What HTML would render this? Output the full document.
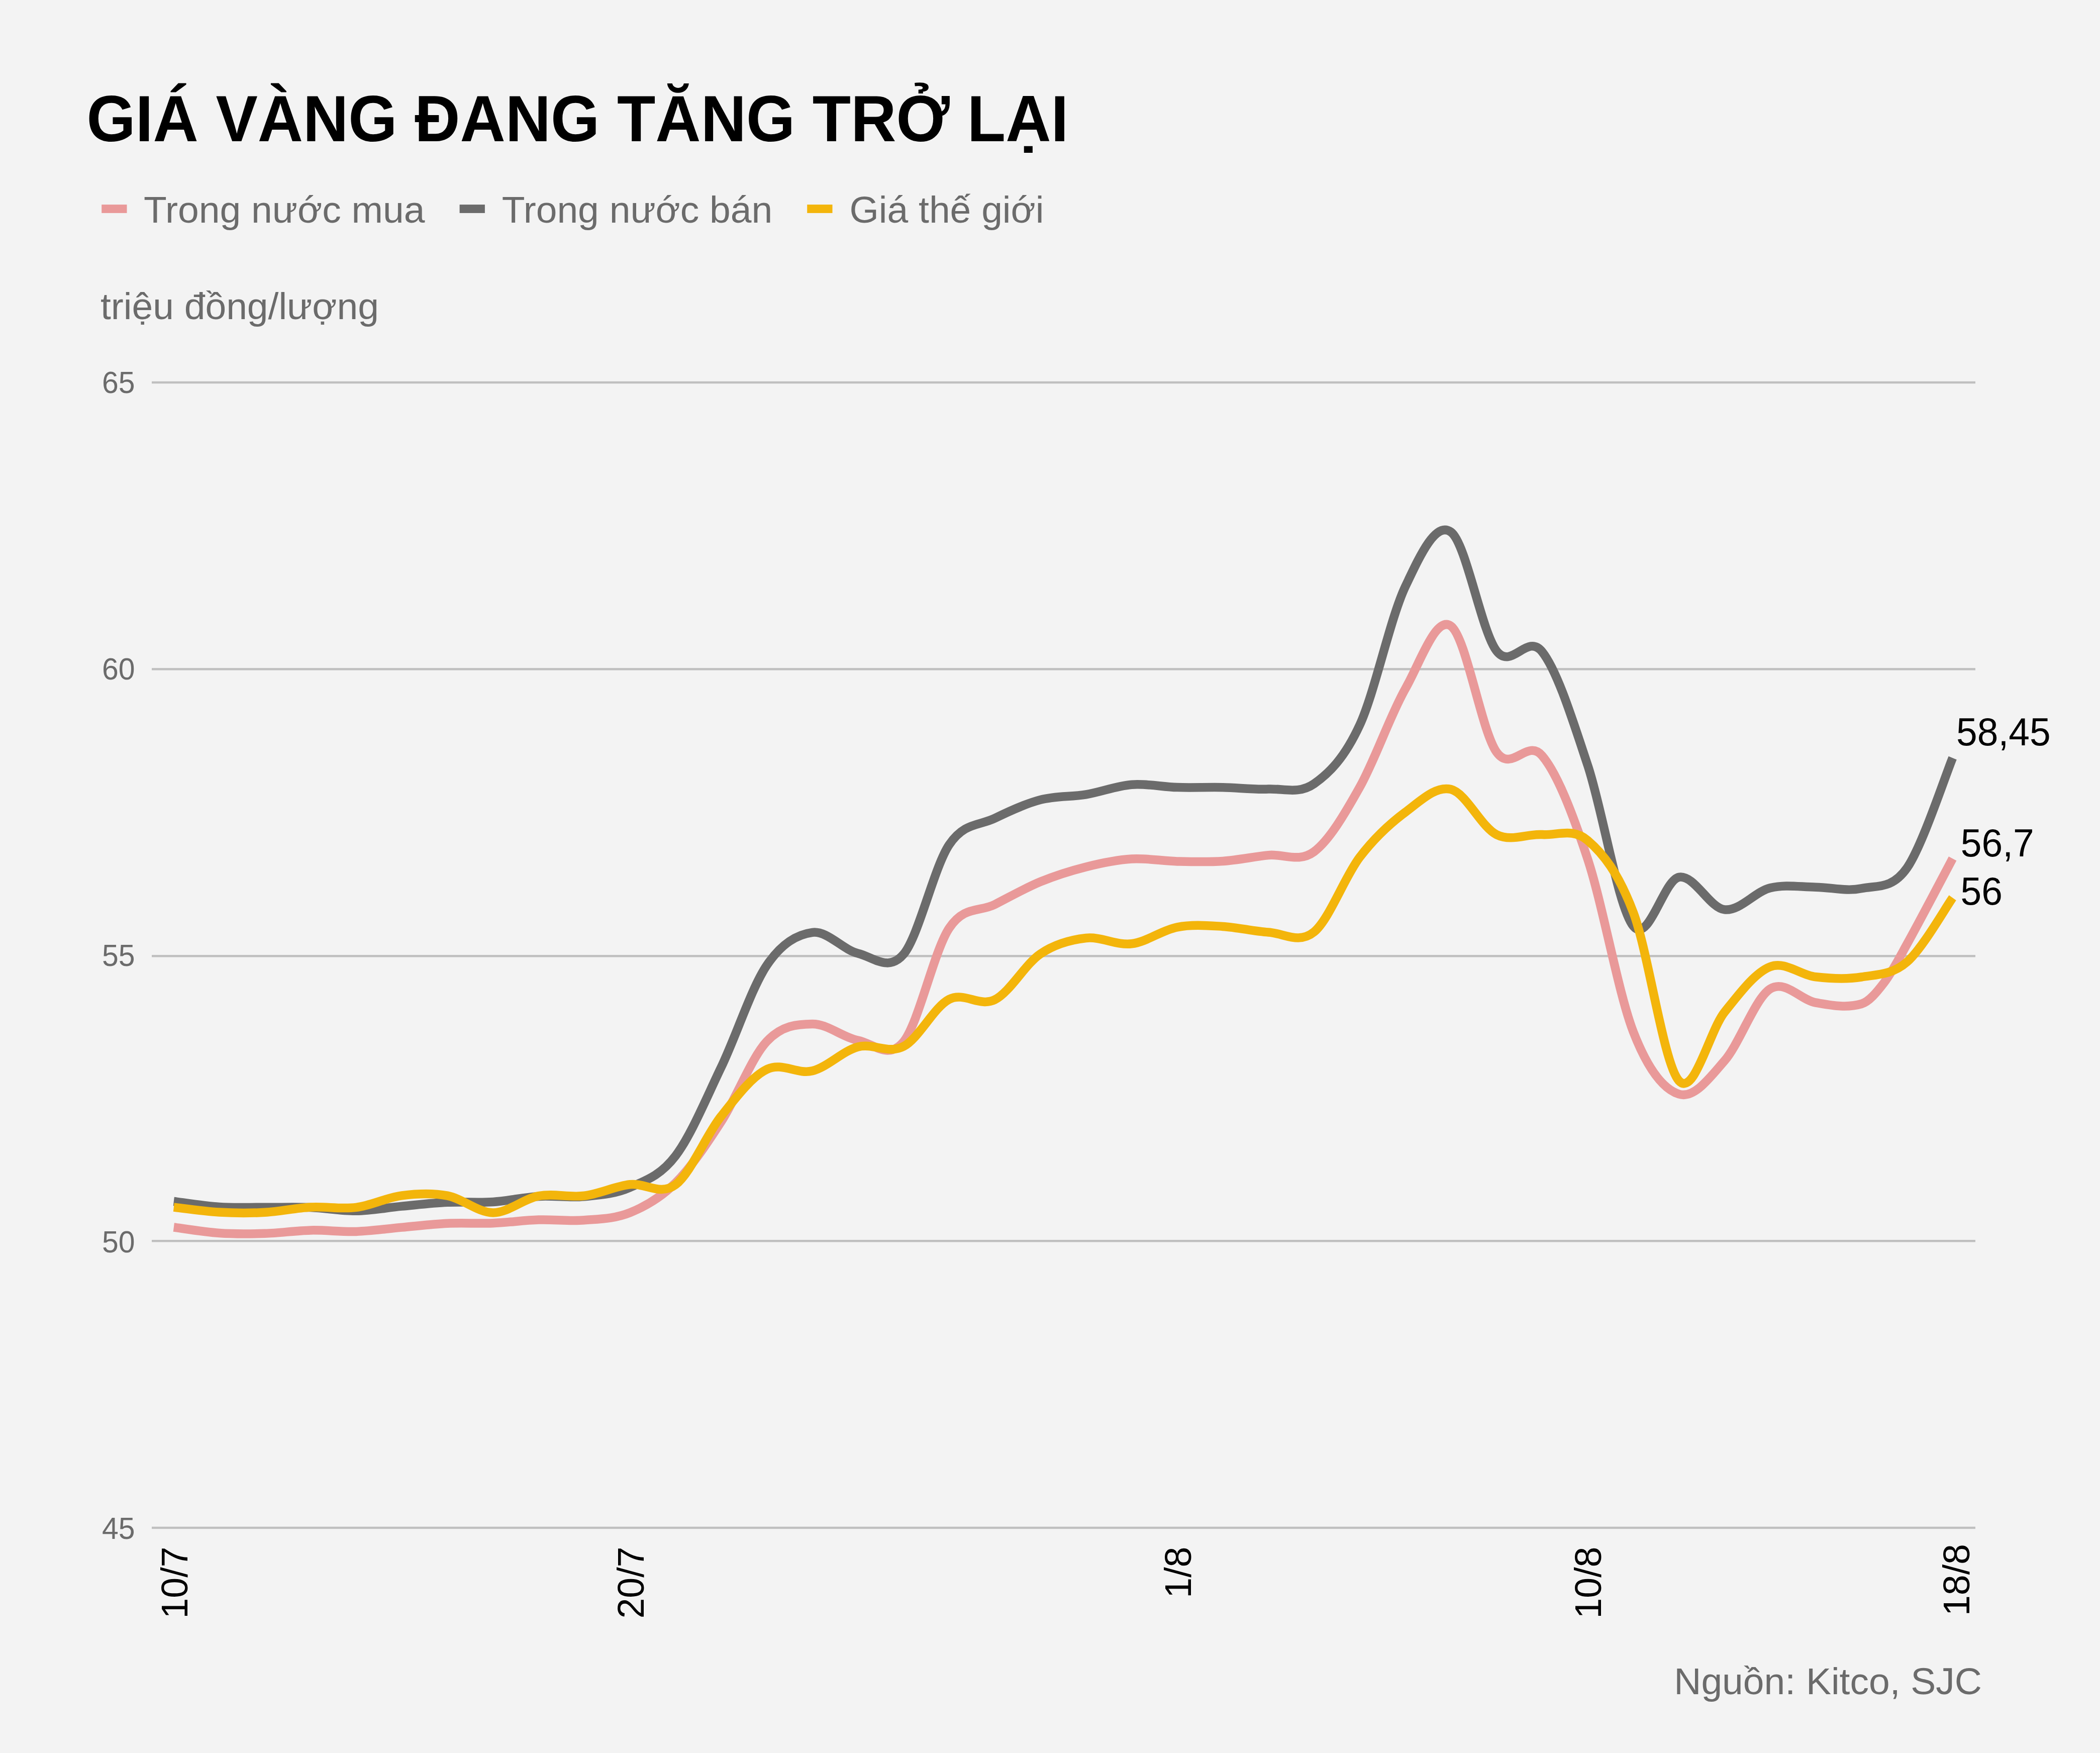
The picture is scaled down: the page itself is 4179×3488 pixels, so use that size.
<!DOCTYPE html>
<html lang="vi"><head><meta charset="utf-8"><title>Giá vàng đang tăng trở lại</title>
<style>html,body{margin:0;padding:0;background:#f3f3f3}body{width:4179px;height:3488px;overflow:hidden}svg{display:block}text{font-family:"Liberation Sans",Arial,Helvetica,sans-serif}</style></head><body>
<svg width="4179" height="3488" viewBox="0 0 4179 3488">
<rect width="4179" height="3488" fill="#f3f3f3"/>
<text transform="translate(172.5 281) scale(1 1.041)" font-size="125" font-weight="700" fill="#000">GIÁ VÀNG ĐANG TĂNG TRỞ LẠI</text>
<rect x="202.2" y="407.1" width="50.3" height="16.8" fill="#e99999"/>
<text x="286.1" y="442.5" font-size="75" fill="#6b6b6b">Trong nước mua</text>
<rect x="914.6" y="407.1" width="50.3" height="16.8" fill="#6b6b6b"/>
<text x="998.7" y="442.5" font-size="75" fill="#6b6b6b">Trong nước bán</text>
<rect x="1606.2" y="407.1" width="50.3" height="16.8" fill="#f3b50b"/>
<text x="1690.5" y="442.5" font-size="75" fill="#6b6b6b">Giá thế giới</text>
<text x="200" y="635" font-size="75" fill="#6b6b6b">triệu đồng/lượng</text>
<rect x="302" y="758.8" width="3629" height="4.4" fill="#bfbfbf"/>
<rect x="302" y="1329.2" width="3629" height="4.4" fill="#bfbfbf"/>
<rect x="302" y="1900.1" width="3629" height="4.4" fill="#bfbfbf"/>
<rect x="302" y="2467.0" width="3629" height="4.4" fill="#bfbfbf"/>
<rect x="302" y="3037.7" width="3629" height="4.4" fill="#bfbfbf"/>
<text transform="translate(203 782) scale(1 1.041)" font-size="59" fill="#6b6b6b">65</text>
<text transform="translate(203 1352) scale(1 1.041)" font-size="59" fill="#6b6b6b">60</text>
<text transform="translate(203 1922) scale(1 1.041)" font-size="59" fill="#6b6b6b">55</text>
<text transform="translate(203 2492) scale(1 1.041)" font-size="59" fill="#6b6b6b">50</text>
<text transform="translate(203 3062) scale(1 1.041)" font-size="59" fill="#6b6b6b">45</text>
<path d="M345.8 2442.0C360.9 2443.9 406.3 2451.4 436.6 2453.5C466.8 2455.6 497.1 2455.2 527.3 2454.3C557.6 2453.4 587.8 2448.6 618.1 2447.9C648.4 2447.2 678.6 2451.4 708.9 2450.4C739.1 2449.4 769.4 2444.8 799.6 2442.1C829.9 2439.4 860.1 2435.7 890.4 2434.3C920.7 2432.9 950.9 2434.9 981.2 2433.7C1011.4 2432.5 1041.7 2428.1 1071.9 2427.1C1102.2 2426.1 1132.4 2430.2 1162.7 2427.8C1193.0 2425.4 1223.2 2425.2 1253.5 2412.9C1283.7 2400.6 1314.0 2384.0 1344.2 2353.8C1374.5 2323.7 1404.7 2278.9 1435.0 2232.0C1465.3 2185.1 1495.5 2104.7 1525.8 2072.3C1556.0 2039.9 1586.3 2037.9 1616.5 2037.5C1646.8 2037.1 1677.0 2064.1 1707.3 2070.0C1737.6 2075.9 1767.8 2110.0 1798.1 2072.8C1828.3 2035.6 1858.6 1892.4 1888.8 1846.9C1919.1 1801.4 1949.3 1815.1 1979.6 1799.7C2009.9 1784.3 2040.1 1766.9 2070.4 1754.4C2100.6 1741.9 2130.9 1732.5 2161.1 1724.9C2191.4 1717.3 2221.6 1710.8 2251.9 1709.0C2282.2 1707.2 2312.4 1713.2 2342.7 1713.9C2372.9 1714.6 2403.2 1715.5 2433.4 1713.4C2463.7 1711.4 2493.9 1704.7 2524.2 1701.6C2554.5 1698.5 2584.7 1717.1 2615.0 1694.6C2645.2 1672.1 2675.5 1620.6 2705.7 1566.6C2736.0 1512.6 2766.2 1424.2 2796.5 1370.7C2826.8 1317.2 2857.0 1224.7 2887.3 1245.6C2917.5 1266.5 2947.8 1453.3 2978.0 1496.3C3008.3 1539.3 3038.5 1468.0 3068.8 1503.6C3099.1 1539.2 3129.3 1618.2 3159.6 1709.8C3189.8 1801.4 3220.1 1975.2 3250.3 2053.1C3280.6 2131.0 3310.8 2167.4 3341.1 2177.0C3371.4 2186.6 3401.6 2145.4 3431.9 2110.5C3462.1 2075.6 3492.4 1987.0 3522.6 1967.7C3552.9 1948.5 3583.1 1990.0 3613.4 1995.0C3643.7 2000.0 3673.9 2006.4 3704.2 1997.5C3719.3 1993.1 3734.4 1974.8 3749.5 1955.0C3764.7 1935.2 3779.8 1905.9 3794.9 1878.5C3825.2 1823.7 3870.6 1736.8 3885.7 1708.4" fill="none" stroke="#e99999" stroke-width="17.5" stroke-linejoin="round" stroke-linecap="butt"/>
<path d="M345.8 2390.5C360.9 2392.3 406.3 2399.6 436.6 2401.6C466.8 2403.6 497.1 2402.1 527.3 2402.3C557.6 2402.5 587.8 2401.4 618.1 2402.6C648.4 2403.8 678.6 2409.7 708.9 2409.3C739.1 2408.9 769.4 2402.9 799.6 2400.1C829.9 2397.3 860.1 2393.7 890.4 2392.3C920.7 2390.9 950.9 2393.5 981.2 2391.5C1011.4 2389.5 1041.7 2382.2 1071.9 2380.4C1102.2 2378.6 1132.4 2383.6 1162.7 2380.7C1193.0 2377.8 1223.2 2376.1 1253.5 2362.7C1283.7 2349.2 1314.0 2339.8 1344.2 2300.0C1374.5 2260.2 1404.7 2187.0 1435.0 2123.8C1465.3 2060.6 1495.5 1965.6 1525.8 1920.9C1556.0 1876.2 1586.3 1859.4 1616.5 1855.4C1646.8 1851.4 1677.0 1889.7 1707.3 1896.9C1737.6 1904.1 1767.8 1934.7 1798.1 1898.7C1828.3 1862.7 1858.6 1726.0 1888.8 1680.9C1919.1 1635.8 1949.3 1643.1 1979.6 1628.2C2009.9 1613.3 2040.1 1599.3 2070.4 1591.4C2100.6 1583.5 2130.9 1585.8 2161.1 1580.8C2191.4 1575.8 2221.6 1563.6 2251.9 1561.2C2282.2 1558.8 2312.4 1565.7 2342.7 1566.6C2372.9 1567.5 2403.2 1566.1 2433.4 1566.7C2463.7 1567.3 2493.9 1571.2 2524.2 1570.0C2554.5 1568.8 2584.7 1580.7 2615.0 1559.5C2645.2 1538.3 2675.5 1508.3 2705.7 1442.9C2736.0 1377.5 2766.2 1231.4 2796.5 1167.3C2826.8 1103.2 2857.0 1037.2 2887.3 1058.5C2917.5 1079.8 2947.8 1255.3 2978.0 1295.0C3008.3 1334.7 3038.5 1258.7 3068.8 1296.7C3099.1 1334.7 3129.3 1431.9 3159.6 1522.9C3189.8 1613.9 3220.1 1805.7 3250.3 1842.8C3280.6 1879.9 3310.8 1750.8 3341.1 1745.3C3371.4 1739.8 3401.6 1806.3 3431.9 1809.9C3462.1 1813.5 3492.4 1774.2 3522.6 1766.8C3552.9 1759.3 3583.1 1765.0 3613.4 1765.2C3643.7 1765.4 3673.9 1774.2 3704.2 1767.8C3734.4 1761.4 3764.7 1770.3 3794.9 1727.0C3825.2 1683.7 3870.6 1544.7 3885.7 1508.2" fill="none" stroke="#6b6b6b" stroke-width="17.5" stroke-linejoin="round" stroke-linecap="butt"/>
<path d="M345.8 2402.1C360.9 2403.8 406.3 2410.4 436.6 2412.1C466.8 2413.8 497.1 2414.0 527.3 2412.3C557.6 2410.6 587.8 2403.7 618.1 2402.0C648.4 2400.3 678.6 2406.2 708.9 2402.4C739.1 2398.6 769.4 2382.8 799.6 2378.9C829.9 2375.0 860.1 2373.5 890.4 2379.2C920.7 2384.9 950.9 2412.8 981.2 2412.9C1011.4 2413.0 1041.7 2385.3 1071.9 2379.7C1102.2 2374.1 1132.4 2383.1 1162.7 2379.3C1193.0 2375.5 1223.2 2360.5 1253.5 2356.8C1283.7 2353.1 1314.0 2379.9 1344.2 2357.3C1374.5 2334.7 1404.7 2259.2 1435.0 2221.0C1465.3 2182.8 1495.5 2142.8 1525.8 2127.8C1556.0 2112.8 1586.3 2138.3 1616.5 2130.8C1646.8 2123.3 1677.0 2091.1 1707.3 2083.0C1737.6 2074.9 1767.8 2097.9 1798.1 2082.1C1828.3 2066.3 1858.6 2003.9 1888.8 1988.4C1919.1 1972.9 1949.3 2004.3 1979.6 1989.2C2009.9 1974.1 2040.1 1918.4 2070.4 1897.9C2100.6 1877.5 2130.9 1869.9 2161.1 1866.5C2191.4 1863.2 2221.6 1881.4 2251.9 1877.8C2282.2 1874.2 2312.4 1850.5 2342.7 1844.8C2372.9 1839.1 2403.2 1841.7 2433.4 1843.4C2463.7 1845.1 2493.9 1853.2 2524.2 1855.0C2554.5 1856.8 2584.7 1879.2 2615.0 1854.3C2645.2 1829.4 2675.5 1745.5 2705.7 1705.8C2736.0 1666.1 2766.2 1638.6 2796.5 1616.1C2826.8 1593.6 2857.0 1563.2 2887.3 1570.6C2917.5 1578.0 2947.8 1645.6 2978.0 1660.6C3008.3 1675.6 3038.5 1658.6 3068.8 1660.6C3099.1 1662.5 3129.3 1646.5 3159.6 1672.3C3189.8 1698.1 3220.1 1735.8 3250.3 1815.5C3280.6 1895.2 3310.8 2117.5 3341.1 2150.5C3371.4 2183.6 3401.6 2051.6 3431.9 2013.8C3462.1 1976.0 3492.4 1935.3 3522.6 1923.6C3552.9 1911.9 3583.1 1940.4 3613.4 1943.8C3643.7 1947.2 3673.9 1949.0 3704.2 1944.0C3734.4 1939.0 3764.7 1940.3 3794.9 1914.0C3825.2 1887.7 3870.6 1807.7 3885.7 1786.4" fill="none" stroke="#f3b50b" stroke-width="17.5" stroke-linejoin="round" stroke-linecap="butt"/>
<text transform="translate(373 3077.5) rotate(-90)" text-anchor="end" font-size="73.5" fill="#000">10/7</text>
<text transform="translate(1281 3077.5) rotate(-90)" text-anchor="end" font-size="73.5" fill="#000">20/7</text>
<text transform="translate(2370 3077.5) rotate(-90)" text-anchor="end" font-size="73.5" fill="#000">1/8</text>
<text transform="translate(3185.6 3077.5) rotate(-90)" text-anchor="end" font-size="73.5" fill="#000">10/8</text>
<text transform="translate(3919.3 3072.0) rotate(-90)" text-anchor="end" font-size="73.5" fill="#000">18/8</text>
<text transform="translate(3893.1 1483) scale(1 1.041)" font-size="75" fill="#000">58,45</text>
<text transform="translate(3901.8 1704.4) scale(1 1.041)" font-size="75" fill="#000">56,7</text>
<text transform="translate(3901.6 1800.4) scale(1 1.041)" font-size="75" fill="#000">56</text>
<text x="3944" y="3371" text-anchor="end" font-size="75" fill="#6b6b6b">Nguồn: Kitco, SJC</text>
</svg></body></html>
